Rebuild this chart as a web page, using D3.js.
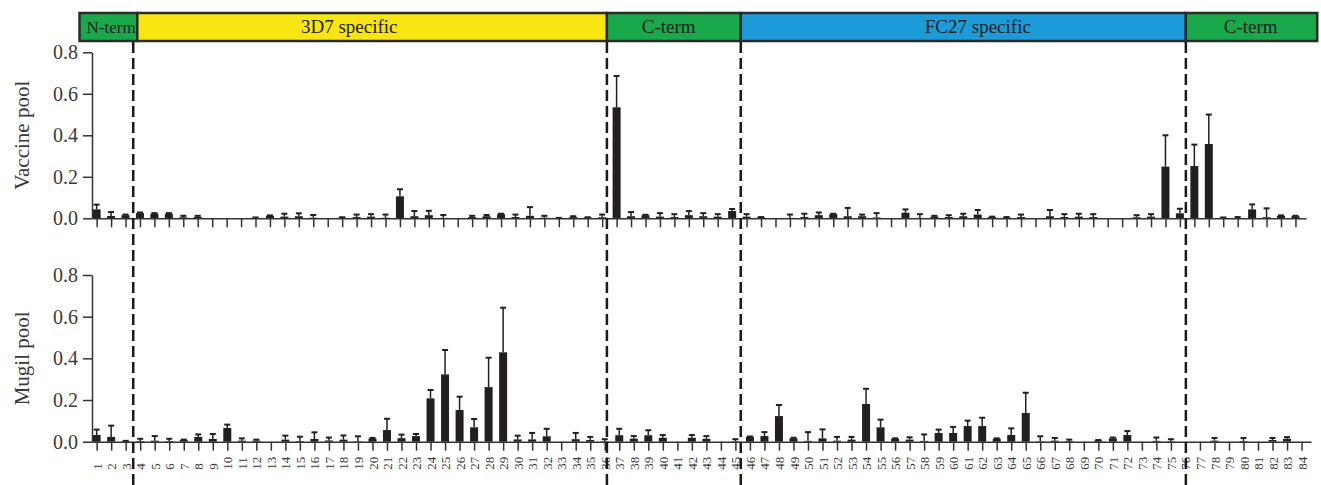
<!DOCTYPE html>
<html>
<head>
<meta charset="utf-8">
<script src="https://cdn.jsdelivr.net/npm/d3@7"></script>
<style>
  body { margin: 0; background: #fff; }
  svg { display: block; font-family: "Liberation Serif", "DejaVu Serif", serif; }
</style>
</head>
<body>
<svg id="chart" width="1321" height="485"></svg>
<script>
// peptide positions 1..84
const categories = d3.range(1, 85);

const vaccineMean = [
  0.043, 0.011, 0.015, 0.025, 0.022, 0.022, 0.005, 0.007, 0, 0,
  0, 0.002, 0.012, 0.008, 0.010, 0.003, 0, 0.003, 0.006, 0.008,
  0.003, 0.106, 0.010, 0.015, 0.002, 0, 0.006, 0.010, 0.020, 0.006,
  0.012, 0.003, 0.001, 0.006, 0.004, 0.005, 0.535, 0.010, 0.015, 0.008,
  0.006, 0.015, 0.010, 0.008, 0.035, 0.008, 0.005, 0, 0.002, 0.006,
  0.015, 0.020, 0.010, 0.010, 0.004, 0, 0.027, 0.002, 0.008, 0.006,
  0.010, 0.018, 0.006, 0.004, 0.006, 0, 0.010, 0.006, 0.008, 0.006,
  0, 0, 0.005, 0.008, 0.249, 0.024, 0.252, 0.358, 0.003, 0.002,
  0.043, 0.005, 0.012, 0.010
];
const vaccineErr = [
  0.023, 0.019, 0.003, 0.003, 0.003, 0.003, 0.007, 0.005, 0, 0,
  0, 0.002, 0.002, 0.014, 0.014, 0.013, 0, 0.002, 0.012, 0.012,
  0.015, 0.034, 0.025, 0.021, 0.014, 0, 0.006, 0.006, 0.002, 0.012,
  0.042, 0.009, 0.001, 0.004, 0.001, 0.013, 0.151, 0.020, 0.002, 0.017,
  0.014, 0.020, 0.015, 0.012, 0.010, 0.012, 0.001, 0, 0.016, 0.016,
  0.013, 0.002, 0.040, 0.008, 0.021, 0, 0.016, 0.018, 0.004, 0.009,
  0.012, 0.022, 0.002, 0.002, 0.012, 0, 0.030, 0.014, 0.014, 0.014,
  0, 0, 0.010, 0.012, 0.151, 0.022, 0.103, 0.142, 0.001, 0.004,
  0.024, 0.043, 0.002, 0.002
];

const mugilMean = [
  0.032, 0.023, 0.002, 0.003, 0.005, 0.003, 0.008, 0.023, 0.013, 0.066,
  0.005, 0.005, 0, 0.010, 0.003, 0.013, 0.006, 0.010, 0.002, 0.015,
  0.056, 0.017, 0.027, 0.208, 0.323, 0.152, 0.069, 0.262, 0.429, 0.011,
  0.011, 0.026, 0, 0.012, 0.008, 0.002, 0.031, 0.015, 0.031, 0.019,
  0, 0.019, 0.014, 0, 0.002, 0.023, 0.027, 0.123, 0.016, 0.004,
  0.016, 0.005, 0.010, 0.181, 0.069, 0.014, 0.010, 0.004, 0.042, 0.042,
  0.075, 0.075, 0.014, 0.032, 0.138, 0.002, 0.005, 0.003, 0, 0.006,
  0.016, 0.032, 0, 0.004, 0.002, 0, 0, 0.005, 0, 0.003,
  0, 0.008, 0.014, 0
];
const mugilErr = [
  0.026, 0.054, 0.002, 0.011, 0.022, 0.011, 0.002, 0.012, 0.024, 0.016,
  0.011, 0.005, 0, 0.019, 0.021, 0.032, 0.014, 0.020, 0.024, 0.003,
  0.054, 0.017, 0.010, 0.040, 0.117, 0.064, 0.040, 0.141, 0.214, 0.018,
  0.031, 0.036, 0, 0.030, 0.015, 0.010, 0.031, 0.012, 0.024, 0.013,
  0, 0.013, 0.013, 0, 0.010, 0.002, 0.019, 0.053, 0.003, 0.042,
  0.043, 0.018, 0.013, 0.073, 0.037, 0.002, 0.011, 0.031, 0.016, 0.029,
  0.026, 0.040, 0.002, 0.032, 0.097, 0.024, 0.013, 0.007, 0, 0.002,
  0.004, 0.019, 0, 0.016, 0.010, 0, 0, 0.013, 0, 0.015,
  0, 0.010, 0.008, 0
];

// protein regions, edges in position units
const regionNames = ["N-term", "3D7 specific", "C-term", "FC27 specific", "C-term"];
const regionColors = ["#19a84a", "#f9e512", "#19a84a", "#1d9bd8", "#19a84a"];
const regionEdges = [-0.18, 3.8, 36.15, 45.37, 76.03, 85.08];
const regionLabelAt = [2.0, 18.4, 40.4, 61.7, 80.5];
const dividers = [3.52, 36.15, 45.37, 76.03];

const yTicks = [0, 0.2, 0.4, 0.6, 0.8];

const ink = "#231f20";
const svg = d3.select("#chart");

const panels = [
  { name: "Vaccine pool", mean: vaccineMean, err: vaccineErr,
    x: d3.scaleLinear().domain([0.68, 84.73]).range([92, 1306]),
    y: d3.scaleLinear().domain([0, 0.8]).range([218.3, 52.3]), labels: false },
  { name: "Mugil pool", mean: mugilMean, err: mugilErr,
    x: d3.scaleLinear().domain([0.68, 84.65]).range([92, 1311]),
    y: d3.scaleLinear().domain([0, 0.8]).range([441.7, 275]), labels: true }
];

const barW = 8;

panels.forEach(p => {
  const g = svg.append("g");
  const rows = categories.map((c, i) => ({ c, v: p.mean[i], e: p.err[i] }));

  // bars
  g.selectAll("rect.bar")
    .data(rows.filter(d => d.v > 0))
    .join("rect")
    .attr("x", d => p.x(d.c) - barW / 2)
    .attr("width", barW)
    .attr("y", d => p.y(d.v))
    .attr("height", d => p.y(0) - p.y(d.v))
    .attr("fill", ink);

  // error bars (upper only)
  const eb = g.selectAll("g.err")
    .data(rows.filter(d => d.e > 0))
    .join("g");
  eb.append("line")
    .attr("x1", d => p.x(d.c)).attr("x2", d => p.x(d.c))
    .attr("y1", d => p.y(d.v)).attr("y2", d => p.y(d.v + d.e))
    .attr("stroke", ink).attr("stroke-width", 1.5);
  eb.append("line")
    .attr("x1", d => p.x(d.c) - 3).attr("x2", d => p.x(d.c) + 3)
    .attr("y1", d => p.y(d.v + d.e)).attr("y2", d => p.y(d.v + d.e))
    .attr("stroke", ink).attr("stroke-width", 2);

  // x axis
  const xAxis = g.append("g")
    .attr("transform", `translate(0,${p.y(0)})`)
    .call(d3.axisBottom(p.x).tickValues(categories).tickSize(9).tickSizeOuter(0)
      .tickFormat(d => p.labels ? d : ""));
  xAxis.select(".domain").attr("stroke", "#333").attr("stroke-width", 1.5);
  xAxis.selectAll(".tick line").attr("stroke", "#333").attr("stroke-width", 1.5);
  xAxis.selectAll(".tick text")
    .attr("transform", "translate(0,28) rotate(-90)")
    .attr("x", 0).attr("y", 0).attr("dy", "0.35em")
    .attr("text-anchor", "start")
    .attr("font-family", "Liberation Serif")
    .attr("font-size", 13)
    .attr("fill", "#3a3a3a");

  // y axis
  const yAxis = g.append("g")
    .attr("transform", `translate(${p.x.range()[0]},0)`)
    .call(d3.axisLeft(p.y).tickValues(yTicks).tickSize(9).tickSizeOuter(0)
      .tickPadding(5).tickFormat(d3.format(".1f")));
  yAxis.select(".domain").attr("stroke", "#333").attr("stroke-width", 1.5);
  yAxis.selectAll(".tick line").attr("stroke", "#333").attr("stroke-width", 1.5);
  yAxis.selectAll(".tick text")
    .attr("font-family", "Liberation Serif")
    .attr("font-size", 20)
    .attr("fill", "#3a3a3a");

  const yMid = (p.y(0) + p.y(0.8)) / 2;
  g.append("text")
    .attr("transform", `translate(29,${yMid}) rotate(-90)`)
    .attr("text-anchor", "middle")
    .attr("font-size", 21)
    .attr("fill", "#3a3a3a")
    .text(p.name);
});

// region header
const xh = panels[1].x;
const regions = regionNames.map((n, i) => ({
  name: n, color: regionColors[i], x0: regionEdges[i], x1: regionEdges[i + 1], at: regionLabelAt[i]
}));
const head = svg.append("g");
head.selectAll("rect")
  .data(regions)
  .join("rect")
  .attr("x", d => xh(d.x0))
  .attr("width", d => xh(d.x1) - xh(d.x0))
  .attr("y", 13)
  .attr("height", 28)
  .attr("fill", d => d.color)
  .attr("stroke", "#2b2b2b")
  .attr("stroke-width", 2.5);
head.selectAll("text")
  .data(regions)
  .join("text")
  .attr("x", d => xh(d.at))
  .attr("y", 33)
  .attr("text-anchor", "middle")
  .attr("font-size", d => d.name === "N-term" ? 17 : 19)
  .attr("fill", "#222")
  .text(d => d.name);

// dashed region dividers through both panels
svg.append("g").selectAll("line")
  .data(dividers)
  .join("line")
  .attr("x1", d => xh(d)).attr("x2", d => xh(d))
  .attr("y1", 42).attr("y2", 485)
  .attr("stroke", "#1a1a1a")
  .attr("stroke-width", 2.5)
  .attr("stroke-dasharray", "11,5");
</script>
</body>
</html>
